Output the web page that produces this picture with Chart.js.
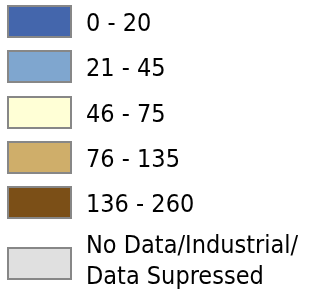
<!DOCTYPE html>
<html>
<head>
<meta charset="utf-8">
<script src="https://cdn.jsdelivr.net/npm/chart.js@4/dist/chart.umd.min.js"></script>
<style>
  html, body { margin: 0; padding: 0; background: #ffffff; }
  #wrap { width: 320px; height: 296px; }
</style>
</head>
<body>
<div id="wrap"><canvas id="c" width="320" height="296"></canvas></div>
<script>
// Legend classes (choropleth bins)
const categories = ['0 - 20', '21 - 45', '46 - 75', '76 - 135', '136 - 260', 'No Data/Industrial/\nData Supressed'];
const binMin = [0, 21, 46, 76, 136, null];
const binMax = [20, 45, 75, 135, 260, null];
const swatchColors = ['#4466ac', '#7fa6cf', '#ffffd6', '#cfae6a', '#7b4f17', '#e0e0e0'];

const L = {
  boxX: 8, boxW: 63, boxH: 31, firstTop: 6, step: 45.3, lastExtra: 15.5,
  textX: 86, fontSize: 25, lineGap: 31, multiShift: -5, borderColor: '#878787', borderW: 2
};

const legendPlugin = {
  id: 'swatchLegend',
  afterDraw(chart) {
    const ctx = chart.ctx;
    const items = chart.options.plugins.legend.labels.generateLabels(chart);
    ctx.save();
    ctx.font = L.fontSize + 'px "DejaVu Sans Condensed", "DejaVu Sans"';
    ctx.textAlign = 'left';
    ctx.textBaseline = 'alphabetic';
    const capH = 0.729 * L.fontSize;
    items.forEach((it, i) => {
      let top = L.firstTop + i * L.step + (i === items.length - 1 ? L.lastExtra : 0);
      top = Math.round(top);
      ctx.fillStyle = it.fillStyle;
      ctx.fillRect(L.boxX, top, L.boxW, L.boxH);
      ctx.strokeStyle = L.borderColor;
      ctx.lineWidth = L.borderW;
      ctx.strokeRect(L.boxX, top, L.boxW, L.boxH);
      const lines = it.text.split('\n');
      const center = top + L.boxH / 2 + 0.5 + (lines.length > 1 ? L.multiShift : 0);
      const firstCapCenter = center - (lines.length - 1) * L.lineGap / 2;
      ctx.fillStyle = '#000000';
      lines.forEach((ln, k) => {
        ctx.fillText(ln, L.textX, Math.round(firstCapCenter + k * L.lineGap + capH / 2));
      });
    });
    ctx.restore();
  }
};

new Chart(document.getElementById('c'), {
  type: 'bar',
  data: {
    labels: categories,
    datasets: [{
      label: 'Bins',
      data: binMax.map(() => null),
      backgroundColor: swatchColors
    }]
  },
  options: {
    responsive: false,
    animation: false,
    events: [],
    scales: { x: { display: false }, y: { display: false } },
    plugins: {
      tooltip: { enabled: false },
      legend: {
        display: false,
        labels: {
          generateLabels(chart) {
            const ds = chart.data.datasets[0];
            return chart.data.labels.map((lab, i) => ({
              text: lab,
              fillStyle: ds.backgroundColor[i],
              index: i
            }));
          }
        }
      }
    }
  },
  plugins: [legendPlugin]
});
</script>
</body>
</html>
